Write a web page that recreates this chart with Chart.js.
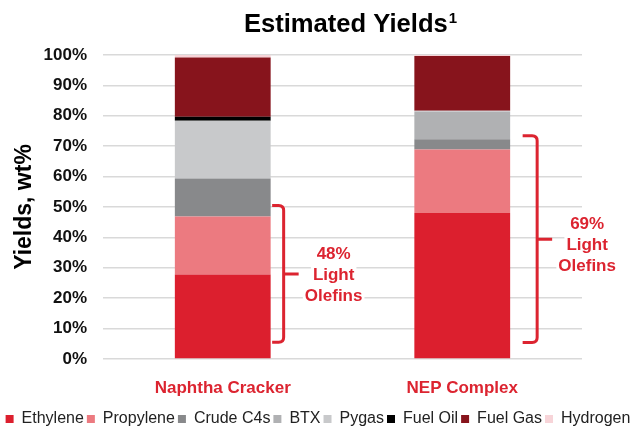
<!DOCTYPE html>
<html><head><meta charset="utf-8">
<script src="https://cdn.jsdelivr.net/npm/chart.js@4/dist/chart.umd.min.js"></script>
<style>html,body{margin:0;padding:0;background:#fff;}</style>
</head><body>
<canvas id="c" width="636" height="428"></canvas>
<script>
const categories = ["Naphtha Cracker", "NEP Complex"];
const seriesNames = ["Ethylene", "Propylene", "Crude C4s", "BTX", "Pygas", "Fuel Oil", "Fuel Gas", "Hydrogen"];
const ethylene = [27.8, 48.0];
const propylene = [19.1, 20.9];
const crudeC4s = [12.5, 3.4];
const btx = [0, 9.0];
const pygas = [19.0, 0.4];
const fuelOil = [1.3, 0];
const fuelGas = [19.5, 18.0];
const hydrogen = [0.8, 0.3];
const yTickLabels = ["0%", "10%", "20%", "30%", "40%", "50%", "60%", "70%", "80%", "90%", "100%"];
const bracketLow = [5.5, 5.4];
const bracketHigh = [50.5, 73.4];
const bracketText = [["48%", "Light", "Olefins"], ["69%", "Light", "Olefins"]];

const seriesValues = [ethylene, propylene, crudeC4s, btx, pygas, fuelOil, fuelGas, hydrogen];
const seriesColors = ["#dc1f2e", "#ec7a80", "#88898b", "#b0b1b3", "#c8c9cb", "#000000", "#87141c", "#f7d4d8"];
const RED = "#dc2430";
const FONT = "'Liberation Sans', Arial, sans-serif";

// layout-only settings for the annotation brackets
const bracketGap = [1.5, 12.5];
const bracketDepth = [11.5, 14.5];
const textDy = [0, 5];

const annotations = {
  id: 'annotations',
  afterDraw(chart) {
    const {ctx, chartArea, scales: {y}} = chart;
    const meta = chart.getDatasetMeta(0);
    ctx.save();
    // title
    const cx = (chartArea.left + chartArea.right) / 2 + 8;
    ctx.font = "bold 25.6px " + FONT;
    const mainW = ctx.measureText("Estimated Yields").width;
    ctx.font = "bold 15px " + FONT;
    const supW = ctx.measureText("1").width;
    const startX = cx - (mainW + 1 + supW) / 2;
    ctx.fillStyle = "#000";
    ctx.textAlign = "left";
    ctx.textBaseline = "alphabetic";
    ctx.font = "bold 25.6px " + FONT;
    ctx.fillText("Estimated Yields", startX, 32);
    ctx.font = "bold 15px " + FONT;
    ctx.fillText("1", startX + mainW + 1, 23);

    for (let i = 0; i < categories.length; i++) {
      const bar = meta.data[i];
      const barRight = bar.x + bar.width / 2;
      const yTop = y.getPixelForValue(bracketHigh[i]);
      const yBot = y.getPixelForValue(bracketLow[i]);
      const yMid = (yTop + yBot) / 2;
      const x0 = barRight + bracketGap[i];
      const xv = x0 + bracketDepth[i];
      const r = 5;
      ctx.strokeStyle = RED;
      ctx.lineWidth = 3;
      ctx.lineJoin = "round";
      ctx.lineCap = "butt";
      ctx.beginPath();
      ctx.moveTo(x0, yTop);
      ctx.lineTo(xv - r, yTop);
      ctx.quadraticCurveTo(xv, yTop, xv, yTop + r);
      ctx.lineTo(xv, yBot - r);
      ctx.quadraticCurveTo(xv, yBot, xv - r, yBot);
      ctx.lineTo(x0, yBot);
      ctx.moveTo(xv, yMid);
      ctx.lineTo(xv + 15, yMid);
      ctx.stroke();

      const tx = xv + 15 + 35;
      const lines = bracketText[i];
      ctx.font = "bold 17px " + FONT;
      ctx.textAlign = "center";
      ctx.textBaseline = "middle";
      for (let k = 0; k < lines.length; k++) {
        const ly = yMid + textDy[i] + (k - 1) * 21;
        const w = ctx.measureText(lines[k]).width;
        ctx.fillStyle = "#fff";
        ctx.fillRect(tx - w / 2 - 2, ly - 10, w + 4, 20);
        ctx.fillStyle = RED;
        ctx.fillText(lines[k], tx, ly + 1);
      }
    }
    ctx.restore();
  }
};

new Chart(document.getElementById('c'), {
  type: 'bar',
  data: {
    labels: categories,
    datasets: seriesNames.map((name, i) => ({
      label: name,
      data: seriesValues[i],
      backgroundColor: seriesColors[i],
      borderWidth: 0,
      barPercentage: 0.4,
      categoryPercentage: 1.0
    }))
  },
  options: {
    responsive: false,
    devicePixelRatio: 1,
    animation: false,
    layout: { padding: { top: 55, left: 0, right: 0, bottom: 0 } },
    plugins: {
      title: { display: false },
      tooltip: { enabled: false },
      legend: {
        position: 'bottom',
        maxHeight: 20,
        labels: {
          font: { family: FONT, size: 16 },
          color: '#222',
          boxWidth: 8,
          boxHeight: 8,
          padding: 3
        }
      }
    },
    scales: {
      x: {
        stacked: true,
        grid: { display: false },
        border: { display: false },
        ticks: {
          padding: 11,
          color: RED,
          font: { family: FONT, size: 17, weight: 'bold' }
        },
        afterFit(s) { s.height = 49; }
      },
      y: {
        stacked: true,
        min: 0,
        max: 100,
        ticks: {
          stepSize: 10,
          padding: 16,
          color: '#111',
          font: { family: FONT, size: 17, weight: 'bold' },
          callback: (v, i) => yTickLabels[i]
        },
        grid: { color: '#d9d9d9', lineWidth: 1.5, drawTicks: false },
        border: { display: false },
        title: {
          display: true,
          text: 'Yields, wt%',
          color: '#000',
          font: { family: FONT, size: 23, weight: 'bold' },
          padding: { top: 11.2, bottom: 0 }
        },
        afterFit(s) { s.width = 103; }
      },
      y2: {
        position: 'right',
        display: true,
        grid: { display: false },
        border: { display: false },
        ticks: { display: false },
        afterFit(s) { s.width = 54; }
      }
    }
  },
  plugins: [annotations]
});
</script>
</body></html>
